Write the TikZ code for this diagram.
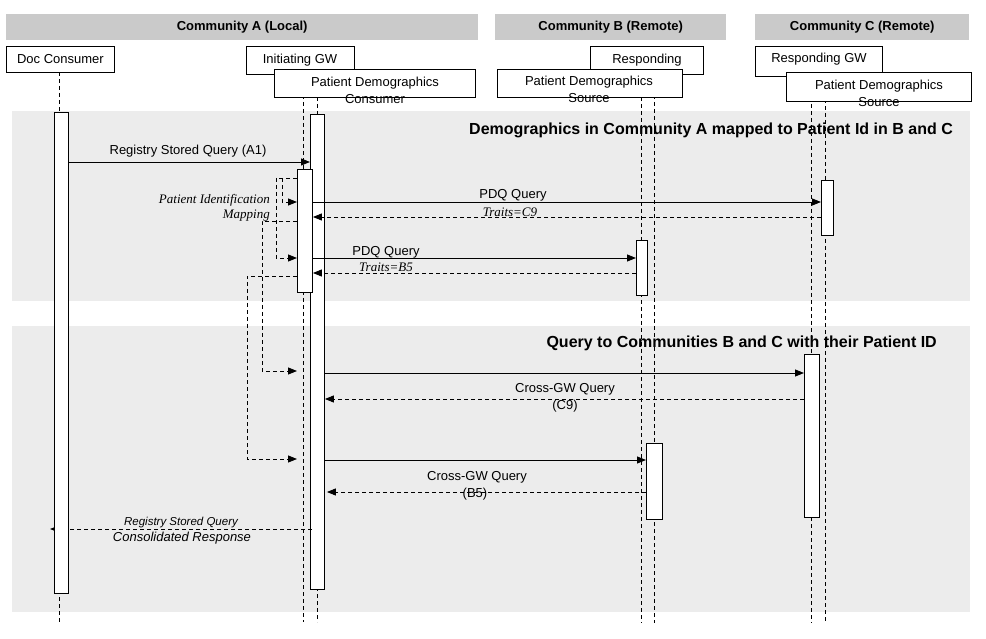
\documentclass[tikz,border=0pt]{standalone}
\usepackage{fontspec}
\setmainfont{Liberation Sans}
\newfontfamily\seriffam{Liberation Serif}
\usetikzlibrary{arrows.meta}
\definecolor{hdrgray}{RGB}{202,202,202}
\definecolor{secgray}{RGB}{236,236,236}
\begin{document}
\begin{tikzpicture}[x=1pt,y=-1pt,
  fs/.style={font=\fontsize{13pt}{15pt}\selectfont},
  lbl/.style={inner sep=0pt, font=\fontsize{13pt}{15pt}\selectfont},
  ilbl/.style={inner sep=0pt, font=\fontsize{13pt}{15pt}\selectfont\seriffam\itshape},
  hdr/.style={fill=hdrgray, inner sep=0pt, anchor=north west, font=\fontsize{13pt}{15pt}\selectfont\bfseries},
  ttl/.style={inner sep=0pt, anchor=east, font=\fontsize{16pt}{18pt}\selectfont\bfseries},
  pbox/.style={draw=black, fill=white, line width=0.9pt, anchor=north west, inner sep=0pt},
  actbox/.style={draw=black, fill=white, line width=0.9pt, anchor=north west, inner sep=0pt},
  lifeline/.style={line width=0.9pt, dash pattern=on 4pt off 3pt},
  msg/.style={line width=0.9pt, -{Triangle[length=9pt,width=7pt]}},
  ret/.style={line width=0.9pt, dash pattern=on 4pt off 3pt, -{Triangle[length=9pt,width=7pt]}},
  mapline/.style={line width=0.9pt, dash pattern=on 4pt off 3pt, -{Triangle[length=9pt,width=7pt]}},
  mapnoarrow/.style={line width=0.9pt, dash pattern=on 4pt off 3pt}
]
\path[use as bounding box] (0,0) rectangle (986,639);

% section backgrounds
\fill[secgray] (12,111) rectangle (970,301);
\fill[secgray] (12,326) rectangle (970,612);

% community headers
\node[hdr, minimum width=472pt, minimum height=26pt] (hA) at (6,14) {Community A (Local)};
\node[hdr, minimum width=231pt, minimum height=26pt] (hB) at (495,14) {Community B (Remote)};
\node[hdr, minimum width=214pt, minimum height=26pt] (hC) at (755,14) {Community C (Remote)};

% section titles
\node[ttl] (t1) at (953,130) {Demographics in Community A mapped to Patient Id in B and C};
\node[ttl] (t2) at (937,343) {Query to Communities B and C with their Patient ID};

% lifelines
\coordinate (l1t) at (59,72);   \coordinate (l1b) at (59,622);
\coordinate (l2t) at (303,74);  \coordinate (l2b) at (303,622);
\coordinate (l3t) at (317,97);  \coordinate (l3b) at (317,622);
\coordinate (l4t) at (641,97);  \coordinate (l4b) at (641,623);
\coordinate (l5t) at (654,74);  \coordinate (l5b) at (654,623);
\coordinate (l6t) at (811,76);  \coordinate (l6b) at (811,623);
\coordinate (l7t) at (825,99);  \coordinate (l7b) at (825,623);
\foreach \a/\b in {l1t/l1b,l2t/l2b,l3t/l3b,l4t/l4b,l5t/l5b,l6t/l6b,l7t/l7b}
  \draw[lifeline] (\a) -- (\b);

% participant boxes
\node[pbox, minimum width=108pt, minimum height=26pt, fs] (dc) at (6,46) {Doc Consumer};
\node[pbox, minimum width=108pt, minimum height=28pt] (igw) at (246,46) {};
\node[lbl] (igwt) at (300,60) {Initiating GW};
\node[pbox, minimum width=201pt, minimum height=28pt] (pdc) at (274,69) {};
\node[lbl] (pdct1) at (375,83) {Patient Demographics};
\node[lbl] (pdct2) at (375,99) {Consumer};

\node[pbox, minimum width=113pt, minimum height=28pt] (rgb) at (590,46) {};
\node[lbl] (rgbt) at (647,60) {Responding};
\node[pbox, minimum width=185pt, minimum height=28pt] (pdsb) at (497,69) {};
\node[lbl] (pdsbt1) at (589,82) {Patient Demographics};
\node[lbl] (pdsbt2) at (589,98) {Source};

\node[pbox, minimum width=127pt, minimum height=30pt] (rgc) at (755,46) {};
\node[lbl] (rgct) at (819,59) {Responding GW};
\node[pbox, minimum width=185pt, minimum height=29pt] (pdsc) at (786,72) {};
\node[lbl] (pdsct1) at (879,86) {Patient Demographics};
\node[lbl] (pdsct2) at (879,102) {Source};

% activation boxes (under messages)
\node[actbox, minimum width=14pt, minimum height=475pt] (pcact) at (310,114) {};
\node[actbox, minimum width=15pt, minimum height=123pt] (gwact) at (297,169) {};
\node[actbox, minimum width=11pt, minimum height=55pt] (bact1) at (636,240) {};
\node[actbox, minimum width=12pt, minimum height=55pt] (cact1) at (821,180) {};
\node[actbox, minimum width=15pt, minimum height=163pt] (cact2) at (804,354) {};
\node[actbox, minimum width=16pt, minimum height=76pt] (bact2) at (646,443) {};

% Registry Stored Query (A1)
\coordinate (a1s) at (68,162);
\draw[msg] (a1s) -- (pcact.west |- a1s);
\node[lbl] (a1l) at (188,151) {Registry Stored Query (A1)};

% patient identification mapping
\coordinate (m0) at (297,178);
\coordinate (m1) at (276,178);
\coordinate (m2) at (282,178);
\draw[mapnoarrow] (m0) -- (m1);
\draw[mapline] (m2) -- (282,202) -- (gwact.west |- 0,202);
\draw[mapline] (m1) -- (276,258) -- (gwact.west |- 0,258);
\draw[mapline] (gwact.west |- 0,221) -- (262,221) -- (262,371) -- (297,371);
\draw[mapline] (gwact.west |- 0,276) -- (247,276) -- (247,459) -- (297,459);
\node[ilbl, anchor=east] (pim1) at (270,200) {Patient Identification};
\node[ilbl, anchor=east] (pim2) at (270,216) {Mapping};

% PDQ query to C
\draw[msg] (gwact.east |- 0,202) -- (cact1.west |- 0,202);
\draw[ret] (cact1.west |- 0,217) -- (gwact.east |- 0,217);
\node[lbl] (pqc) at (513,195) {PDQ Query};
\node[ilbl] (trc) at (510,212) {Traits=C9};

% PDQ query to B
\draw[msg] (gwact.east |- 0,258) -- (bact1.west |- 0,258);
\draw[ret] (bact1.west |- 0,273) -- (gwact.east |- 0,273);
\node[lbl] (pqb) at (386,252) {PDQ Query};
\node[ilbl] (trb) at (386,267) {Traits=B5};

% Cross-GW to C
\draw[msg] (pcact.east |- 0,373) -- (cact2.west |- 0,373);
\draw[ret] (cact2.west |- 0,399) -- (pcact.east |- 0,399);
\node[lbl] (cgc1) at (565,389) {Cross-GW Query};
\node[lbl] (cgc2) at (565,406) {(C9)};

% Cross-GW to B
\draw[msg] (pcact.east |- 0,460) -- (bact2.west |- 0,460);
\draw[ret] (bact2.west |- 0,492) -- ([xshift=2pt]pcact.east |- 0,492);
\node[lbl] (cgb1) at (477,477) {Cross-GW Query};
\node[lbl] (cgb2) at (475,494) {(B5)};

% consolidated response
\coordinate (crs) at (312,529);
\coordinate (cre) at (50,529);
\draw[ret] (crs) -- (cre);
\node[inner sep=0pt, font=\fontsize{11.5pt}{13pt}\selectfont\itshape] (cr1) at (181,523) {Registry Stored Query};
\node[inner sep=0pt, font=\fontsize{13pt}{15pt}\selectfont\itshape] (cr2) at (182,538) {Consolidated Response};

% Doc consumer activation (over the response line)
\node[actbox, minimum width=14pt, minimum height=481pt] (dcact) at (54,112) {};
\end{tikzpicture}
\end{document}
